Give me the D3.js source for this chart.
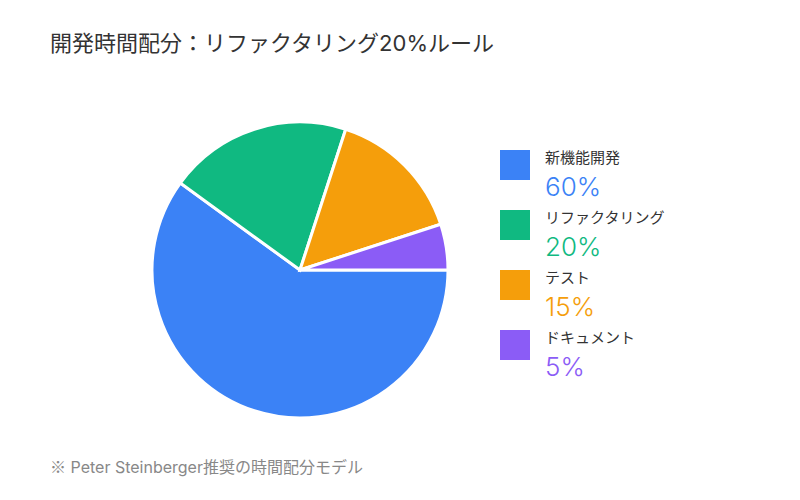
<!DOCTYPE html>
<html>
<head>
<meta charset="utf-8">
<script src="https://cdn.jsdelivr.net/npm/d3@7"></script>
<style>
  body { margin: 0; background: #fff; }
  svg text { font-family: Inter, "Noto Sans CJK JP", sans-serif; }
</style>
</head>
<body>
<svg id="chart" width="800" height="500"></svg>
<script>
var categories = ["新機能開発", "リファクタリング", "テスト", "ドキュメント"];
var values = [60, 20, 15, 5];
var colors = ["#3b82f6", "#10b981", "#f59e0b", "#8b5cf6"];

var svg = d3.select("#chart");

svg.append("text")
    .attr("x", 50)
    .attr("y", 51)
    .attr("font-size", 22)
    .attr("fill", "#333")
    .text("開発時間配分：リファクタリング20%ルール");

var radius = 148;
var g = svg.append("g")
    .attr("transform", "translate(300,270)");

var pie = d3.pie()
    .sort(null)
    .startAngle(Math.PI / 2)
    .endAngle(Math.PI / 2 + 2 * Math.PI);

var arc = d3.arc().innerRadius(0).outerRadius(radius);

g.selectAll("path")
    .data(pie(values))
    .enter()
    .append("path")
    .attr("d", arc)
    .attr("fill", function (d, i) { return colors[i]; })
    .attr("stroke", "#fff")
    .attr("stroke-width", 3);

var legend = svg.selectAll(".legend")
    .data(categories)
    .enter()
    .append("g")
    .attr("class", "legend")
    .attr("transform", function (d, i) {
        return "translate(500," + (150 + i * 60) + ")";
    });

legend.append("rect")
    .attr("width", 30)
    .attr("height", 30)
    .attr("fill", function (d, i) { return colors[i]; });

legend.append("text")
    .attr("x", 45)
    .attr("y", 13)
    .attr("font-size", 15)
    .attr("fill", "#333")
    .text(function (d) { return d; });

legend.append("text")
    .attr("x", 45)
    .attr("y", 46)
    .attr("font-size", 26)
    .attr("font-weight", 300)
    .attr("fill", function (d, i) { return colors[i]; })
    .text(function (d, i) { return values[i] + "%"; });

var note = svg.append("text")
    .attr("x", 50)
    .attr("y", 473)
    .attr("font-size", 16)
    .attr("fill", "#888");
note.append("tspan")
    .style("font-family", "'Noto Sans CJK JP'")
    .text("※");
note.append("tspan")
    .text(" Peter Steinberger推奨の時間配分モデル");
</script>
</body>
</html>
